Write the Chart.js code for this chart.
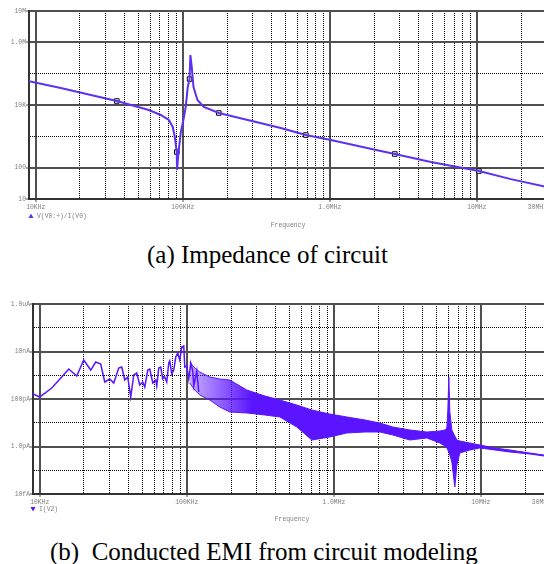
<!DOCTYPE html>
<html>
<head>
<meta charset="utf-8">
<script src="https://cdn.jsdelivr.net/npm/chart.js@4"></script>
<style>
html, body { margin:0; padding:0; width:544px; height:564px; overflow:hidden; background:#fff; }
canvas { position:absolute; left:0; }
#ca { top:0; }
#cb { top:290px; }
.cap { position:absolute; font-family:"Liberation Serif", "Times New Roman", serif; font-size:25px; line-height:25px; color:#000; white-space:pre; }
</style>
</head>
<body>
<canvas id="ca" width="571" height="235"></canvas>
<canvas id="cb" width="575" height="240"></canvas>
<div class="cap" style="left:147px; top:242px;">(a) Impedance of circuit</div>
<div class="cap" style="left:50px; top:539px;">(b)  Conducted EMI from circuit modeling</div>
<script>
// frequency axis, shared by both plots
var xTicks = [1e4, 2e4, 3e4, 4e4, 5e4, 6e4, 7e4, 8e4, 9e4,
  1e5, 2e5, 3e5, 4e5, 5e5, 6e5, 7e5, 8e5, 9e5,
  1e6, 2e6, 3e6, 4e6, 5e6, 6e6, 7e6, 8e6, 9e6,
  1e7, 2e7, 3e7];
// the last label is padded so it sits left of its tick, as in the plot
var xTickLabels = {1e4: '10KHz', 1e5: '100KHz', 1e6: '1.0MHz', 1e7: '10MHz', 3e7: '30MHz     '};

// (a) impedance V(V0:+)/I(V0)
var freqA = [9000, 14800, 23700, 35600, 58700, 70800, 80400, 85500, 88300, 91000, 91400, 93500,
  96800, 101600, 104700, 108100, 111200, 112700, 115100, 118300, 125900, 139000, 175800, 276700,
  464500, 687100, 1016000, 2223000, 2767000, 4864000, 10330000, 17020000, 30000000];
var zA = [57500, 34800, 20800, 13400, 6920, 4800, 3320, 1990, 951, 316, 84, 294,
  1280, 3850, 8630, 37500, 67600, 394000, 163000, 37500, 14400, 8630, 5550, 3320,
  1850, 1100, 764, 340, 273, 151, 78, 43, 24];
var markFreqA = [35600, 91000, 111200, 175800, 687100, 2767000, 10330000];
var markZA = [13400, 316, 67600, 5550, 1100, 273, 78];
var yTicksA = [10, 100, 1e3, 1e4, 1e5, 1e6, 1e7];
var yTickLabelsA = {10: '10', 100: '100', 1e4: '10K', 1e6: '1.0M', 1e7: '10M'};

// (b) conducted EMI I(V2)
var freqB = [9000, 10000, 12070, 14120, 15750, 17860, 19920, 22230, 24040, 26000, 27690, 29940,
  31870, 34460, 36130, 37860, 39680, 41590, 43610, 45690, 47890, 50210, 51820, 54290, 56020,
  58720, 61530, 62500, 64490, 66540, 68660, 70850, 73100, 75430, 76620, 79070, 81580, 84180,
  86860, 89640, 92480, 95410, 96920, 100000, 103180, 106460, 109850, 111600, 116950, 120680];
var iB = [1.63e-10, 1.21e-10, 2.90e-10, 8.43e-10, 1.83e-9, 9.29e-10, 4.39e-9, 1.66e-9, 3.61e-9,
  2.98e-9, 5.20e-10, 6.95e-10, 4.72e-10, 2.02e-9, 2.22e-9, 6.31e-10, 8.43e-10, 1.21e-10, 1.03e-9,
  1.24e-9, 3.88e-10, 5.20e-10, 3.20e-10, 1.66e-9, 1.83e-9, 4.72e-10, 6.31e-10, 3.52e-10, 2.02e-9,
  2.22e-9, 6.95e-10, 8.43e-10, 5.20e-10, 3.28e-9, 3.98e-9, 1.13e-9, 1.66e-9, 5.86e-9, 8.65e-9,
  4.39e-9, 1.55e-8, 1.71e-8, 2.22e-9, 2.45e-9, 6.95e-10, 3.28e-9, 1.51e-9, 3.52e-10, 1.51e-9, 1.97e-10];
// envelope of the dense ringing band above 100KHz
var freqBand = [104800, 113400, 122600, 143400, 167700, 196100, 256000, 339300, 429100, 560200,
  708700, 939200, 1226000, 1625000, 2055000, 2520000, 3289000, 4292000, 5262000, 5690000,
  5871000, 5963000, 6058000, 6153000, 6349000, 6654000, 6866000, 7197000, 8418000, 9845000,
  12450000, 15750000, 21540000, 30000000];
var iBandHi = [3.61e-9, 2.02e-9, 1.37e-9, 8.43e-10, 6.95e-10, 6.31e-10, 2.39e-10, 1.34e-10, 9.08e-11,
  5.58e-11, 3.44e-11, 2.33e-11, 1.75e-11, 1.31e-11, 9.75e-12, 6.62e-12, 4.95e-12, 4.08e-12, 4.50e-12,
  4.95e-12, 6.01e-12, 3.44e-11, 8.43e-10, 2.84e-11, 4.95e-12, 2.77e-12, 1.88e-12, 1.71e-12, 1.40e-12,
  1.16e-12, 8.65e-13, 7.13e-13, 5.32e-13, 3.98e-13];
var iBandLo = [4.72e-10, 2.39e-10, 1.47e-10, 9.08e-11, 4.60e-11, 2.84e-11, 2.58e-11, 2.12e-11, 1.75e-11,
  6.62e-12, 1.88e-12, 2.51e-12, 3.70e-12, 4.08e-12, 4.08e-12, 3.05e-12, 1.88e-12, 2.28e-12, 1.40e-12,
  1.05e-12, 8.65e-13, 7.13e-13, 5.86e-13, 4.39e-13, 2.22e-13, 1.97e-14, 1.66e-13, 5.32e-13, 7.13e-13,
  8.65e-13, 7.13e-13, 5.86e-13, 4.83e-13, 3.61e-13];
var yTicksB = [1e-14, 1e-13, 1e-12, 1e-11, 1e-10, 1e-9, 1e-8, 1e-7, 1e-6];
var yTickLabelsB = {1e-14: '10fA', 1e-12: '1.0pA', 1e-10: '100pA', 1e-8: '10nA', 1e-6: '1.0uA'};

var traceA = '#6030f0';
var traceB = '#5a14ff';
var labelGray = '#808080';
var monoFont = {family: 'Liberation Mono', size: 6.4};

function pts(xs, ys) {
  return xs.map(function (x, i) { return {x: x, y: ys[i]}; });
}

function labeled(map, c) {
  return c.tick && map[c.tick.value] !== undefined;
}

function gridFor(map) {
  return {
    color: function (c) { return labeled(map, c) ? '#505050' : '#000'; },
    lineWidth: function (c) { return labeled(map, c) ? 2 : 1; },
    tickLength: 3,
    tickWidth: 1,
    tickColor: function (c) { return labeled(map, c) ? '#505050' : 'rgba(0,0,0,0)'; }
  };
}

function borderFor(map) {
  return {
    display: true, color: '#333', width: 2,
    dash: function (c) { return (c.tick && map[c.tick.value] === undefined) ? [1, 1] : []; }
  };
}

function xScale(titlePad) {
  return {
    type: 'logarithmic', min: 9000, max: 3e7,
    afterBuildTicks: function (s) { s.ticks = xTicks.map(function (v) { return {value: v}; }); },
    afterFit: function (s) { s.height = 36; },
    ticks: {
      autoSkip: false, maxRotation: 0, minRotation: 0, padding: 1, color: labelGray, font: monoFont,
      callback: function (v) { return xTickLabels[v] || ''; }
    },
    grid: gridFor(xTickLabels),
    border: borderFor(xTickLabels),
    title: {display: true, text: 'Frequency', color: labelGray, font: monoFont, padding: {top: 0, bottom: titlePad}}
  };
}

function yScale(min, max, ticks, map, width) {
  return {
    type: 'logarithmic', min: min, max: max,
    afterBuildTicks: function (s) { s.ticks = ticks.map(function (v) { return {value: v}; }); },
    afterFit: function (s) { s.width = width; },
    ticks: {
      autoSkip: false, padding: 0, color: labelGray, font: monoFont,
      callback: function (v) { return map[v] || ''; }
    },
    grid: gridFor(map),
    border: borderFor(map)
  };
}

function traceLegend(x, y, text, up, color) {
  return {
    id: 'traceLegend',
    afterDraw: function (chart) {
      var ctx = chart.ctx;
      ctx.save();
      ctx.fillStyle = color;
      ctx.beginPath();
      if (up) { ctx.moveTo(x - 2.5, y + 2); ctx.lineTo(x + 2.5, y + 2); ctx.lineTo(x, y - 2.5); }
      else { ctx.moveTo(x - 2.5, y - 2); ctx.lineTo(x + 2.5, y - 2); ctx.lineTo(x, y + 2.5); }
      ctx.closePath();
      ctx.fill();
      ctx.fillStyle = labelGray;
      ctx.font = '6.4px "Liberation Mono"';
      ctx.textBaseline = 'middle';
      ctx.fillText(text, x + 6, y);
      ctx.restore();
    }
  };
}

// the ringing band is sparse teeth just above 100KHz and turns solid towards 300KHz
function bandFill(c) {
  var ch = c.chart;
  if (!ch.chartArea) return traceB;
  var xs = ch.scales.x;
  var g = ch.ctx.createLinearGradient(xs.getPixelForValue(1.05e5), 0, xs.getPixelForValue(2.8e5), 0);
  g.addColorStop(0, 'rgba(90,20,255,0.35)');
  g.addColorStop(1, 'rgba(90,20,255,1)');
  return g;
}

var common = {
  responsive: false, animation: false, devicePixelRatio: 1,
  plugins: {legend: {display: false}, tooltip: {enabled: false}},
  elements: {point: {radius: 0}, line: {tension: 0}}
};

new Chart(document.getElementById('ca').getContext('2d'), {
  type: 'line',
  data: {
    datasets: [
      {data: pts(freqA, zA), borderColor: traceA, borderWidth: 2, fill: false},
      {data: pts(markFreqA, markZA), showLine: false, pointStyle: 'rect', pointRadius: 3.2,
        pointBackgroundColor: '#fff', pointBorderColor: '#000', pointBorderWidth: 1}
    ]
  },
  options: Object.assign({}, common, {
    layout: {padding: {left: 0, top: 11, right: 24, bottom: 0}},
    scales: {x: xScale(6), y: yScale(10, 1e7, yTicksA, yTickLabelsA, 29)}
  }),
  plugins: [traceLegend(31, 216, 'V(V0:+)/I(V0)', true, traceA)]
});

new Chart(document.getElementById('cb').getContext('2d'), {
  type: 'line',
  data: {
    datasets: [
      {data: pts(freqB, iB), borderColor: traceB, borderWidth: 1.5, fill: false},
      {data: pts(freqBand, iBandHi), borderColor: traceB, borderWidth: 1, fill: false},
      {data: pts(freqBand, iBandLo), borderColor: traceB, borderWidth: 1, fill: '-1', backgroundColor: bandFill}
    ]
  },
  options: Object.assign({}, common, {
    layout: {padding: {left: 0, top: 14, right: 24, bottom: 0}},
    scales: {x: xScale(7), y: yScale(1e-14, 1e-6, yTicksB, yTickLabelsB, 33)}
  }),
  plugins: [traceLegend(33, 219, 'I(V2)', false, traceB)]
});
</script>
</body>
</html>
